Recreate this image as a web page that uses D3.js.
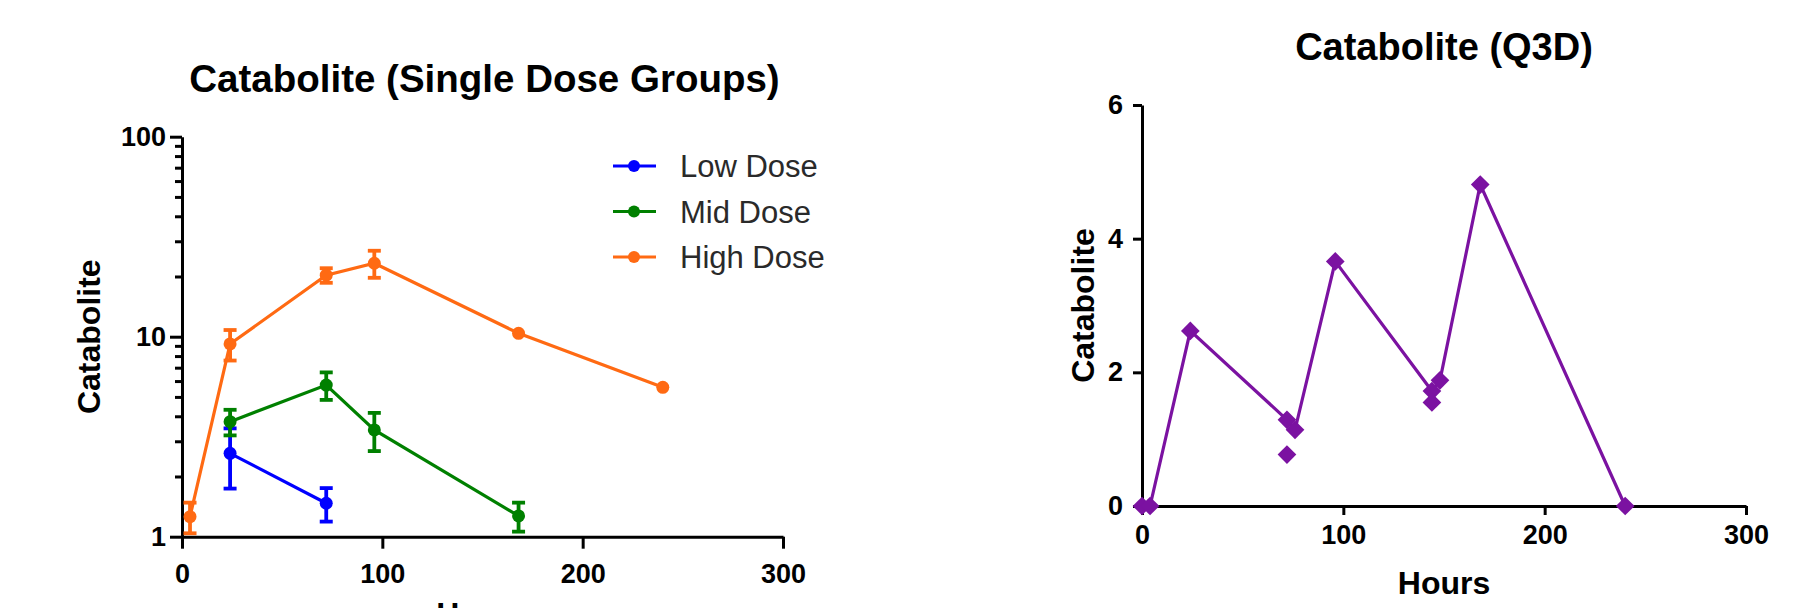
<!DOCTYPE html>
<html><head><meta charset="utf-8">
<script src="https://cdn.jsdelivr.net/npm/d3@7"></script>
<style>body{margin:0;background:#fff;} text{font-family:"Liberation Sans",Arial,sans-serif;}</style>
</head><body><svg id="c" width="1807" height="608"></svg>
<script>
// ---- Left chart data (single dose groups) ----
const seriesNames = ["Low Dose", "Mid Dose", "High Dose"];
const seriesColors = ["#0000ff", "#008000", "#ff6a13"];
const lowHours = [24, 72];
const lowMean = [2.61, 1.47];
const lowSD = [0.87, 0.28];
const midHours = [24, 72, 96, 168];
const midMean = [3.76, 5.73, 3.42, 1.27];
const midSD = [0.55, 0.90, 0.74, 0.21];
const highHours = [4, 24, 72, 96, 168, 240];
const highMean = [1.26, 9.2, 20.3, 23.3, 10.4, 5.58];
const highSD = [0.22, 1.6, 1.7, 3.6, 0, 0];
const leftXTicks = [0, 100, 200, 300];
const leftYMajor = [1, 10, 100];
const leftYMinor = [2,3,4,5,6,7,8,9,20,30,40,50,60,70,80,90];

// ---- Right chart data (Q3D) ----
const q3dHours = [0, 4, 24, 72, 76, 96, 144, 148, 168, 240];
const q3dValues = [0, 0, 2.62, 1.29, 1.14, 3.66, 1.72, 1.88, 4.81, 0];
const q3dExtraHours = [72, 144];
const q3dExtraValues = [0.77, 1.55];
const rightXTicks = [0, 100, 200, 300];
const rightYTicks = [0, 2, 4, 6];

const svg = d3.select("#c");

function styleAxis(g, width) {
  g.select(".domain").attr("stroke", "#000").attr("stroke-width", width);
  g.selectAll(".tick line").attr("stroke", "#000").attr("stroke-width", width);
  g.selectAll(".tick text").attr("fill", "#000")
    .style("font-family", '"Liberation Sans",Arial,sans-serif')
    .style("font-weight", "bold").style("font-size", "27px");
}

// ===== LEFT =====
const lx = d3.scaleLinear().domain([0, 300]).range([182, 783]);
const ly = d3.scaleLog().domain([1, 100]).range([536.7, 136.7]);

svg.append("g").attr("transform", `translate(${lx(0)},0)`)
  .call(d3.axisLeft(ly).tickValues(leftYMinor).tickSize(7).tickFormat(""))
  .call(g => { g.select(".domain").remove(); styleAxis(g, 3); });
svg.append("g").attr("transform", `translate(${lx(0)},0)`)
  .call(d3.axisLeft(ly).tickValues(leftYMajor).tickSize(12).tickSizeOuter(0).tickPadding(4).tickFormat(d3.format("d")))
  .call(g => styleAxis(g, 3));
svg.append("g").attr("transform", `translate(0,${ly(1)})`)
  .call(d3.axisBottom(lx).tickValues(leftXTicks).tickSize(12).tickSizeOuter(0).tickPadding(15))
  .call(g => styleAxis(g, 3));

const leftSeries = [
  {h: lowHours, m: lowMean, s: lowSD},
  {h: midHours, m: midMean, s: midSD},
  {h: highHours, m: highMean, s: highSD}
];
const line = d3.line().x(d => lx(d.h)).y(d => ly(d.m));
leftSeries.forEach((ser, i) => {
  const pts = ser.h.map((h, j) => ({h, m: ser.m[j], s: ser.s[j]}));
  const col = seriesColors[i];
  svg.append("path").datum(pts).attr("d", line).attr("fill", "none")
    .attr("stroke", col).attr("stroke-width", 3.2);
  const eb = svg.append("g").attr("stroke", col).attr("stroke-width", 3.8);
  pts.filter(p => p.s > 0).forEach(p => {
    const x = lx(p.h);
    const yT = ly(p.m + p.s), yB = Math.min(ly(1), ly(Math.max(1.0001, p.m - p.s)));
    eb.append("line").attr("x1", x).attr("x2", x).attr("y1", yT).attr("y2", yB);
    eb.append("line").attr("x1", x - 6.5).attr("x2", x + 6.5).attr("y1", yT).attr("y2", yT);
    if (p.m - p.s > 1) eb.append("line").attr("x1", x - 6.5).attr("x2", x + 6.5).attr("y1", yB).attr("y2", yB);
  });
  svg.append("g").selectAll("circle").data(pts).join("circle")
    .attr("cx", d => lx(d.h)).attr("cy", d => ly(d.m)).attr("r", 6.5).attr("fill", col);
});

// legend
const legY = d3.scalePoint().domain(seriesNames).range([166, 257]);
seriesNames.forEach((n, i) => {
  const y = legY(n);
  svg.append("line").attr("x1", 613).attr("x2", 656).attr("y1", y).attr("y2", y)
    .attr("stroke", seriesColors[i]).attr("stroke-width", 3.2);
  svg.append("circle").attr("cx", 634).attr("cy", y).attr("r", 6).attr("fill", seriesColors[i]);
  svg.append("text").attr("x", 680).attr("y", y + 11).text(n)
    .style("font-size", "31px").attr("fill", "#2a2a2a");
});

svg.append("text").attr("x", (lx(0) + lx(300)) / 2 + 2).attr("y", 92).attr("text-anchor", "middle")
  .style("font-size", "38.5px").style("font-weight", "bold").text("Catabolite (Single Dose Groups)");
svg.append("text").attr("transform", `translate(100,${(ly(1) + ly(100)) / 2}) rotate(-90)`)
  .attr("text-anchor", "middle").style("font-size", "32px").style("font-weight", "bold").text("Catabolite");
svg.append("text").attr("x", (lx(0) + lx(300)) / 2).attr("y", 625).attr("text-anchor", "middle")
  .style("font-size", "32px").style("font-weight", "bold").text("Hours");

// ===== RIGHT =====
const rx = d3.scaleLinear().domain([0, 300]).range([1142, 1746]);
const ry = d3.scaleLinear().domain([0, 6]).range([506, 105]);
svg.append("g").attr("transform", `translate(${rx(0)},0)`)
  .call(d3.axisLeft(ry).tickValues(rightYTicks).tickSize(9).tickSizeOuter(0).tickPadding(10).tickFormat(d3.format("d")))
  .call(g => styleAxis(g, 3));
svg.append("g").attr("transform", `translate(0,${ry(0)})`)
  .call(d3.axisBottom(rx).tickValues(rightXTicks).tickSize(9).tickSizeOuter(0).tickPadding(10))
  .call(g => styleAxis(g, 3));

const purple = "#7b12a1";
const qpts = q3dHours.map((h, i) => ({h, v: q3dValues[i]}));
const qextra = q3dExtraHours.map((h, i) => ({h, v: q3dExtraValues[i]}));
svg.append("path").datum(qpts)
  .attr("d", d3.line().x(d => rx(d.h)).y(d => ry(d.v)))
  .attr("fill", "none").attr("stroke", purple).attr("stroke-width", 3.2);
const diamond = d3.symbol().type(d3.symbolSquare).size(175);
svg.append("g").selectAll("path").data(qpts.concat(qextra)).join("path")
  .attr("d", diamond)
  .attr("transform", d => `translate(${rx(d.h)},${ry(d.v)}) rotate(45)`)
  .attr("fill", purple);

svg.append("text").attr("x", (rx(0) + rx(300)) / 2).attr("y", 60).attr("text-anchor", "middle")
  .style("font-size", "38px").style("font-weight", "bold").text("Catabolite (Q3D)");
svg.append("text").attr("transform", `translate(1094,${(ry(0) + ry(6)) / 2}) rotate(-90)`)
  .attr("text-anchor", "middle").style("font-size", "32px").style("font-weight", "bold").text("Catabolite");
svg.append("text").attr("x", (rx(0) + rx(300)) / 2).attr("y", 594).attr("text-anchor", "middle")
  .style("font-size", "32px").style("font-weight", "bold").text("Hours");
</script></body></html>
